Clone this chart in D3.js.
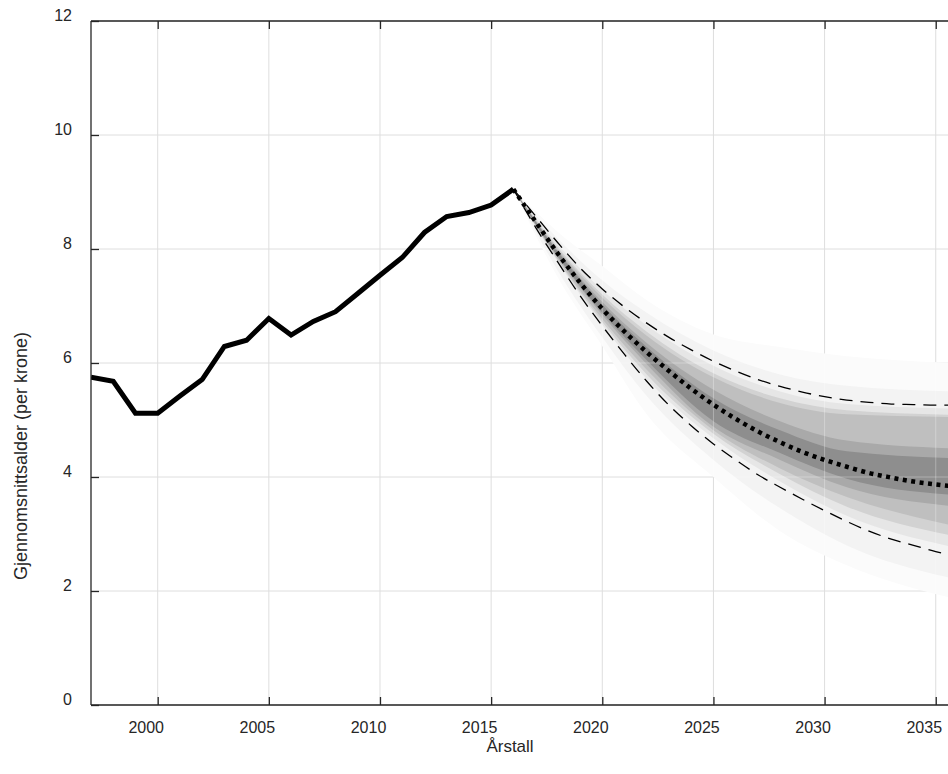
<!DOCTYPE html>
<html>
<head>
<meta charset="utf-8">
<script src="https://cdn.jsdelivr.net/npm/d3@7"></script>
<style>
  body { margin: 0; background: #fff; }
  svg { display: block; font-family: "Liberation Sans", Arial, sans-serif; }
</style>
</head>
<body>
<svg id="chart"></svg>
<script>
// historic values
var histYears = [1997, 1998, 1999, 2000, 2001, 2002, 2003, 2004, 2005, 2006,
                 2007, 2008, 2009, 2010, 2011, 2012, 2013, 2014, 2015, 2016];
var histValues = [5.75, 5.68, 5.12, 5.12, 5.42, 5.71, 6.29, 6.40, 6.78, 6.49,
                  6.73, 6.90, 7.22, 7.54, 7.85, 8.29, 8.57, 8.64, 8.77, 9.05];

// forecast: median (dotted) and outer percentiles (dashed)
var fcYears = [2016, 2017, 2018, 2019, 2020, 2021, 2022, 2023, 2024, 2025, 2026,
               2027, 2028, 2029, 2030, 2031, 2032, 2033, 2034, 2035, 2036];
var fcMedian = [9.05, 8.48, 7.92, 7.41, 6.95, 6.55, 6.19, 5.86, 5.55, 5.27, 5.02,
                4.80, 4.61, 4.44, 4.30, 4.18, 4.07, 3.99, 3.92, 3.87, 3.83];
var fcUpper = [9.05, 8.58, 8.11, 7.67, 7.30, 6.98, 6.70, 6.45, 6.23, 6.03, 5.86,
               5.71, 5.59, 5.49, 5.41, 5.35, 5.31, 5.28, 5.27, 5.26, 5.26];
var fcLower = [9.05, 8.38, 7.77, 7.18, 6.65, 6.15, 5.68, 5.26, 4.90, 4.58, 4.30,
               4.04, 3.82, 3.61, 3.41, 3.22, 3.05, 2.91, 2.80, 2.69, 2.60];

// fan bands, read at a few years
var bandYears = [2016, 2018, 2020, 2022, 2025, 2028, 2031, 2036];
var bandF1Hi = [9.05, 8.30, 7.70, 7.10, 6.50, 6.28, 6.12, 6.00];
var bandF1Lo = [9.05, 7.50, 6.30, 5.10, 4.00, 3.05, 2.45, 1.85];
var bandF2Hi = [9.05, 8.18, 7.45, 6.88, 6.22, 5.80, 5.60, 5.50];
var bandF2Lo = [9.05, 7.62, 6.45, 5.42, 4.30, 3.45, 2.80, 2.20];
var bandL1Hi = [9.05, 8.08, 7.28, 6.66, 5.95, 5.50, 5.28, 5.20];
var bandL1Lo = [9.05, 7.77, 6.67, 5.72, 4.68, 3.92, 3.32, 2.75];
var bandL2Hi = [9.05, 8.03, 7.20, 6.55, 5.82, 5.38, 5.17, 5.09];
var bandL2Lo = [9.05, 7.80, 6.72, 5.80, 4.76, 4.05, 3.48, 2.95];
var bandL3Hi = [9.05, 8.00, 7.15, 6.48, 5.75, 5.30, 5.10, 5.05];
var bandL3Lo = [9.05, 7.82, 6.77, 5.88, 4.82, 4.15, 3.65, 3.13];
var bandL4Hi = [9.05, 7.97, 7.07, 6.35, 5.53, 4.98, 4.64, 4.50];
var bandL4Lo = [9.05, 7.85, 6.84, 5.98, 4.88, 4.30, 3.82, 3.48];
var bandL5Hi = [9.05, 7.95, 7.02, 6.28, 5.38, 4.82, 4.45, 4.33];
var bandL5Lo = [9.05, 7.87, 6.88, 6.05, 4.98, 4.42, 3.97, 3.68];

var xTicks = [2000, 2005, 2010, 2015, 2020, 2025, 2030, 2035];
var yTicks = [0, 2, 4, 6, 8, 10, 12];

var width = 948;
var height = 774;
var mLeft = 91, mTop = 21, mBottom = 705;

var svg = d3.select("#chart")
            .attr("width", width)
            .attr("height", height);

var xScale = d3.scaleLinear()
               .domain([1997, 2036])
               .range([mLeft, mLeft + 39 * 22.23]);

var yScale = d3.scaleLinear()
               .domain([0, 12])
               .range([mBottom, mTop]);

svg.append("clipPath").attr("id", "clip")
  .append("rect")
  .attr("x", mLeft).attr("y", mTop)
  .attr("width", width - mLeft).attr("height", mBottom - mTop);

// bands from outer to inner
var bands = [
  { hi: bandF1Hi, lo: bandF1Lo, color: "#fbfbfb" },
  { hi: bandF2Hi, lo: bandF2Lo, color: "#f3f3f3" },
  { hi: bandL1Hi, lo: bandL1Lo, color: "#e6e6e6" },
  { hi: bandL2Hi, lo: bandL2Lo, color: "#d2d2d2" },
  { hi: bandL3Hi, lo: bandL3Lo, color: "#bfbfbf" },
  { hi: bandL4Hi, lo: bandL4Lo, color: "#a9a9a9" },
  { hi: bandL5Hi, lo: bandL5Lo, color: "#8e8e8e" }
];

var area = d3.area()
  .x(function(d) { return xScale(d.year); })
  .y0(function(d) { return yScale(d.lo); })
  .y1(function(d) { return yScale(d.hi); })
  .curve(d3.curveMonotoneX);

function bandPath(b) {
  return area(bandYears.map(function(yr, i) {
    return { year: yr, hi: b.hi[i], lo: b.lo[i] };
  }));
}

// outer band shape, used to let grid lines shine faintly through the fan
svg.append("clipPath").attr("id", "fanclip")
  .append("path")
  .attr("d", bandPath(bands[0]));

function drawGrid(g, color, opacity) {
  g.selectAll("line.vx")
    .data(xTicks)
    .enter().append("line")
    .attr("x1", function(d) { return xScale(d); })
    .attr("x2", function(d) { return xScale(d); })
    .attr("y1", mTop).attr("y2", mBottom)
    .attr("stroke", color).attr("stroke-opacity", opacity).attr("stroke-width", 1);
  g.selectAll("line.hy")
    .data(yTicks)
    .enter().append("line")
    .attr("x1", mLeft).attr("x2", width)
    .attr("y1", function(d) { return yScale(d); })
    .attr("y2", function(d) { return yScale(d); })
    .attr("stroke", color).attr("stroke-opacity", opacity).attr("stroke-width", 1);
}

// grid
drawGrid(svg.append("g"), "#dedede", 1);

var plot = svg.append("g").attr("clip-path", "url(#clip)");

plot.selectAll("path.band")
  .data(bands)
  .enter().append("path")
  .attr("d", bandPath)
  .attr("fill", function(b) { return b.color; });

drawGrid(plot.append("g").attr("clip-path", "url(#fanclip)"), "#ffffff", 0.3);

var line = d3.line()
  .x(function(d) { return xScale(d[0]); })
  .y(function(d) { return yScale(d[1]); });

var smooth = d3.line()
  .x(function(d) { return xScale(d[0]); })
  .y(function(d) { return yScale(d[1]); })
  .curve(d3.curveMonotoneX);

function pairs(xs, ys) {
  return xs.map(function(x, i) { return [x, ys[i]]; });
}

// dashed percentiles
[fcUpper, fcLower].forEach(function(vals) {
  plot.append("path")
    .attr("d", smooth(pairs(fcYears, vals)))
    .attr("fill", "none")
    .attr("stroke", "#000")
    .attr("stroke-width", 1.3)
    .attr("stroke-dasharray", "13,8");
});

// median dotted
plot.append("path")
  .attr("d", smooth(pairs(fcYears, fcMedian)))
  .attr("fill", "none")
  .attr("stroke", "#000")
  .attr("stroke-width", 4.5)
  .attr("stroke-dasharray", "4,4.5");

// history
plot.append("path")
  .attr("d", line(pairs(histYears, histValues)))
  .attr("fill", "none")
  .attr("stroke", "#000")
  .attr("stroke-width", 5)
  .attr("stroke-linejoin", "miter");

// axes (ticks point inward)
var xAxis = svg.append("g")
  .attr("transform", "translate(0," + mBottom + ")")
  .call(d3.axisBottom(xScale).tickValues(xTicks).tickSize(-8).tickSizeOuter(0).tickFormat(d3.format("d")));
xAxis.selectAll("text")
  .attr("x", -12).attr("y", 28).attr("dy", 0);

var topAxis = svg.append("g")
  .attr("transform", "translate(0," + mTop + ")")
  .call(d3.axisTop(xScale).tickValues(xTicks).tickSize(-8).tickSizeOuter(0).tickFormat(""));

var yAxis = svg.append("g")
  .attr("transform", "translate(" + mLeft + ",0)")
  .call(d3.axisLeft(yScale).tickValues(yTicks).tickSize(-8).tickSizeOuter(0));
yAxis.selectAll("text")
  .attr("x", -19).attr("dy", 0).attr("y", -0.5);

[xAxis, topAxis, yAxis].forEach(function(g) {
  g.select(".domain").remove();
  g.selectAll("line").attr("stroke", "#262626").attr("stroke-width", 1.3);
  g.selectAll("text").attr("fill", "#262626").style("font-size", "16px")
    .style("font-family", "'Liberation Sans', Arial, sans-serif");
});

// frame: left, top, bottom
var frame = svg.append("g").attr("stroke", "#262626").attr("stroke-width", 1.3);
frame.append("line").attr("x1", mLeft).attr("x2", mLeft).attr("y1", mTop).attr("y2", mBottom);
frame.append("line").attr("x1", mLeft).attr("x2", width).attr("y1", mTop).attr("y2", mTop);
frame.append("line").attr("x1", mLeft).attr("x2", width).attr("y1", mBottom).attr("y2", mBottom);

// labels
svg.append("text")
  .attr("x", 510).attr("y", 752)
  .attr("text-anchor", "middle")
  .attr("fill", "#262626")
  .style("font-size", "17px")
  .text("Årstall");

svg.append("text")
  .attr("transform", "translate(27,456) rotate(-90)")
  .attr("text-anchor", "middle")
  .attr("fill", "#262626")
  .style("font-size", "18px")
  .text("Gjennomsnittsalder (per krone)");
</script>
</body>
</html>
